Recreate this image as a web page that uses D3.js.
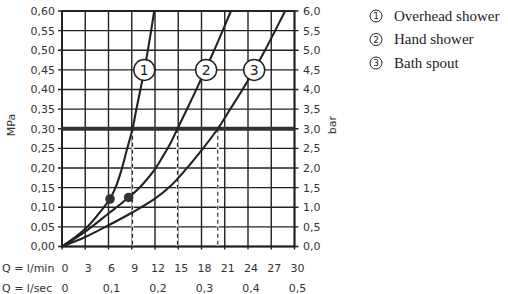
<!DOCTYPE html>
<html><head><meta charset="utf-8">
<script src="https://cdn.jsdelivr.net/npm/d3@7"></script>
<style>html,body{margin:0;padding:0;background:#fff;}svg{display:block;}</style>
</head><body>
<svg id="c" width="508" height="294"></svg>
<script>
const pressureTicks = [0,0.05,0.10,0.15,0.20,0.25,0.30,0.35,0.40,0.45,0.50,0.55,0.60];
const barTicks = [0,0.5,1.0,1.5,2.0,2.5,3.0,3.5,4.0,4.5,5.0,5.5,6.0];
const flowTicks = [0,3,6,9,12,15,18,21,24,27,30];
const secTicks = [0,0.1,0.2,0.3,0.4,0.5];
const seriesNames = ["Overhead shower","Hand shower","Bath spout"];
const overheadLowQ = [0,3,6.2];
const overheadLowP = [0,0.045,0.121];
const overheadQ = [6.2,6.9,7.6,8.35,9.1,9.6,10.12,10.62,11.08,11.5,11.9];
const overheadP = [0.121,0.15,0.19,0.245,0.3,0.35,0.4,0.45,0.5,0.55,0.6];
const handQ = [0,3,6,8.6,9.9,11,12,13,14,14.9,16.2,17.4,18.6,19.7,20.8,21.8];
const handP = [0,0.038,0.084,0.125,0.148,0.172,0.197,0.229,0.263,0.3,0.353,0.403,0.455,0.503,0.553,0.6];
const bathQ = [0,3,6,9,12,14,16,18.2,20.1,21.7,23.3,24.8,26.2,27.5,28.8];
const bathP = [0,0.024,0.054,0.086,0.122,0.154,0.197,0.25,0.3,0.35,0.4,0.45,0.5,0.55,0.6];
const dotQ = [6.2,8.6];
const dotP = [0.121,0.125];
const refPressure = 0.30;
const dashQ = [9.1,14.9,20.1];
const labelQ = [10.62,18.6,24.8];
const labelP = 0.45;

const svg = d3.select("#c");
const x = d3.scaleLinear().domain([0,30]).range([62,294.5]);
const y = d3.scaleLinear().domain([0,0.6]).range([246.5,11]);
const yb = d3.scaleLinear().domain([0,6]).range([246.5,11]);
const fmt2 = d => d.toFixed(2).replace(".",",");
const fmt1 = d => d.toFixed(1).replace(".",",");
const ink = "#222";
const sans = "'DejaVu Sans', sans-serif";

const g = svg.append("g");
g.selectAll(".hg").data(pressureTicks).join("line")
  .attr("x1",x(0)-4).attr("x2",x(30)+4).attr("y1",d=>y(d)).attr("y2",d=>y(d))
  .attr("stroke",ink).attr("stroke-width",1.4);
g.selectAll(".vg").data(flowTicks).join("line")
  .attr("x1",d=>x(d)).attr("x2",d=>x(d)).attr("y1",y(0.6)).attr("y2",y(0)+3)
  .attr("stroke",ink).attr("stroke-width",1.4);
g.append("rect").attr("x",x(0)).attr("y",y(0.6)).attr("width",x(30)-x(0)).attr("height",y(0)-y(0.6))
  .attr("fill","none").attr("stroke",ink).attr("stroke-width",2);

dashQ.forEach(q=>{
  g.append("line").attr("x1",x(q)).attr("x2",x(q)).attr("y1",y(refPressure)).attr("y2",y(0)-1)
    .attr("stroke","#fff").attr("stroke-width",2.2);
  g.append("line").attr("x1",x(q)).attr("x2",x(q)).attr("y1",y(refPressure)).attr("y2",y(0)-1)
    .attr("stroke",ink).attr("stroke-width",1.1).attr("stroke-dasharray","4,3");
});

g.append("line").attr("x1",x(0)).attr("x2",x(30)).attr("y1",y(refPressure)).attr("y2",y(refPressure))
  .attr("stroke","#333").attr("stroke-width",4.2);

const txt = (sel)=>sel.attr("font-family",sans).attr("font-size",11).attr("fill","#333");
txt(g.selectAll(".yl").data(pressureTicks).join("text")
  .attr("x",55).attr("y",d=>y(d)).attr("dy","0.36em").attr("text-anchor","end")).text(fmt2);
txt(g.selectAll(".yr").data(barTicks).join("text")
  .attr("x",303).attr("y",d=>yb(d)).attr("dy","0.36em").attr("text-anchor","start")).text(fmt1);
txt(g.append("text").attr("transform","translate(15,125) rotate(-90)").attr("text-anchor","middle")).text("MPa");
txt(g.append("text").attr("transform","translate(336,125) rotate(-90)").attr("text-anchor","middle")).text("bar");
txt(g.selectAll(".xl").data(flowTicks).join("text")
  .attr("x",d=>x(d)+3).attr("y",268).attr("dy","0.36em").attr("text-anchor","middle")).text(d=>d);
txt(g.selectAll(".xs").data(secTicks).join("text")
  .attr("x",d=>x(d*60)+3).attr("y",288).attr("dy","0.36em").attr("text-anchor","middle"))
  .text(d=>d===0?"0":d.toFixed(1).replace(".",","));
txt(g.append("text").attr("x",2).attr("y",268).attr("dy","0.36em")).text("Q = l/min");
txt(g.append("text").attr("x",2).attr("y",288).attr("dy","0.36em")).text("Q = l/sec");

const smooth = d3.line().x(d=>x(d[0])).y(d=>y(d[1])).curve(d3.curveCatmullRom.alpha(0.5));
const zip = (qs,ps)=>qs.map((q,i)=>[q,ps[i]]);
[[overheadLowQ,overheadLowP],[overheadQ,overheadP],[handQ,handP],[bathQ,bathP]].forEach(([qs,ps])=>{
  g.append("path").attr("d",smooth(zip(qs,ps)))
    .attr("fill","none").attr("stroke",ink).attr("stroke-width",2.1).attr("stroke-linecap","round");
});
g.selectAll(".dot").data(dotQ).join("circle")
  .attr("cx",d=>x(d)).attr("cy",(d,i)=>y(dotP[i])).attr("r",4.8).attr("fill","#333");

labelQ.forEach((q,i)=>{
  g.append("circle").attr("cx",x(q)).attr("cy",y(labelP)).attr("r",10.5)
    .attr("fill","#fff").attr("stroke",ink).attr("stroke-width",1.5);
  g.append("text").attr("x",x(q)).attr("y",y(labelP)).attr("dy","0.36em").attr("text-anchor","middle")
    .attr("font-family",sans).attr("font-size",14).attr("fill",ink).text(i+1);
});

seriesNames.forEach((n,i)=>{
  const cy = 16 + i*23.5;
  g.append("circle").attr("cx",376).attr("cy",cy).attr("r",6).attr("fill","none").attr("stroke",ink).attr("stroke-width",1);
  g.append("text").attr("x",376).attr("y",cy).attr("dy","0.36em").attr("text-anchor","middle")
    .attr("font-family",sans).attr("font-size",9).attr("fill",ink).text(i+1);
  g.append("text").attr("x",394).attr("y",cy).attr("dy","0.33em")
    .attr("font-family","'Liberation Serif', serif").attr("font-size",15).attr("fill",ink).text(n);
});
</script>
</body></html>
